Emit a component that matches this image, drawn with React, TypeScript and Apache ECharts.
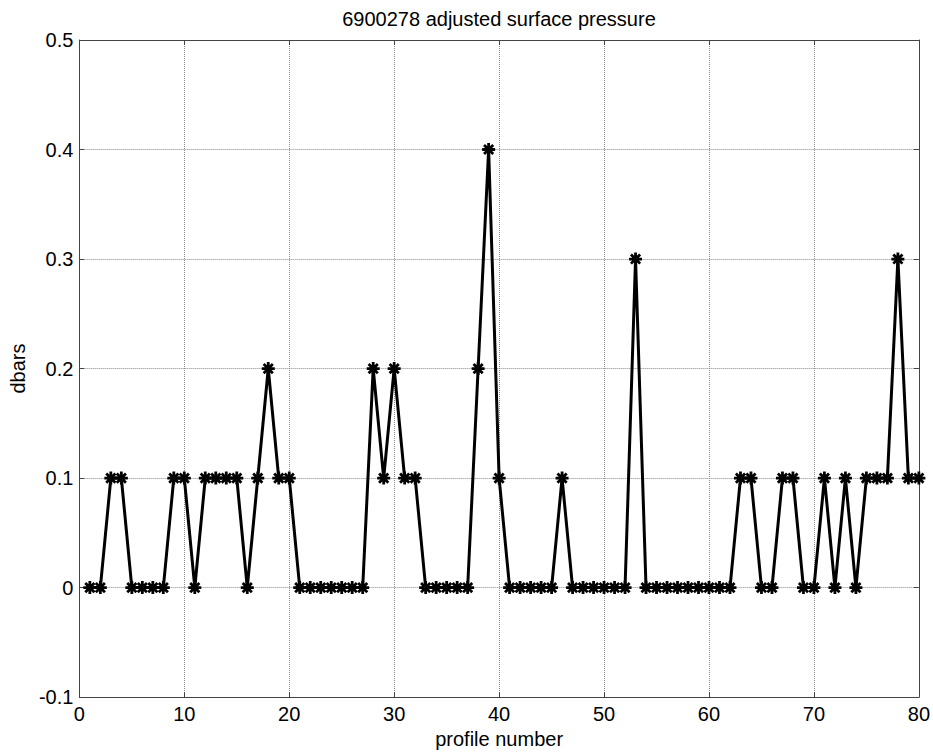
import React, { useEffect, useRef } from "react";
import * as echarts from "echarts";

const titleText = "6900278 adjusted surface pressure";
const xAxisName = "profile number";
const yAxisName = "dbars";

const profileNumbers = [
  1, 2, 3, 4, 5, 6, 7, 8, 9, 10,
  11, 12, 13, 14, 15, 16, 17, 18, 19, 20,
  21, 22, 23, 24, 25, 26, 27, 28, 29, 30,
  31, 32, 33, 34, 35, 36, 37, 38, 39, 40,
  41, 42, 43, 44, 45, 46, 47, 48, 49, 50,
  51, 52, 53, 54, 55, 56, 57, 58, 59, 60,
  61, 62, 63, 64, 65, 66, 67, 68, 69, 70,
  71, 72, 73, 74, 75, 76, 77, 78, 79, 80,
];

const adjustedPressure = [
  0, 0, 0.1, 0.1, 0, 0, 0, 0, 0.1, 0.1,
  0, 0.1, 0.1, 0.1, 0.1, 0, 0.1, 0.2, 0.1, 0.1,
  0, 0, 0, 0, 0, 0, 0, 0.2, 0.1, 0.2,
  0.1, 0.1, 0, 0, 0, 0, 0, 0.2, 0.4, 0.1,
  0, 0, 0, 0, 0, 0.1, 0, 0, 0, 0,
  0, 0, 0.3, 0, 0, 0, 0, 0, 0, 0,
  0, 0, 0.1, 0.1, 0, 0, 0.1, 0.1, 0, 0,
  0.1, 0, 0.1, 0, 0.1, 0.1, 0.1, 0.3, 0.1, 0.1,
];

const xTicks = { min: 0, max: 80, interval: 10 };
const yTicks = { min: -0.1, max: 0.5, interval: 0.1 };

const FONT = "'Liberation Sans', Arial, sans-serif";
const AXIS_COLOR = "#444";
const GRID_COLOR = "#8a8a8a";
const ASTERISK = "path://M0,-10L0,10M-10,0L10,0M-7.07,-7.07L7.07,7.07M-7.07,7.07L7.07,-7.07";

export default function App() {
  const ref = useRef<HTMLDivElement>(null);

  useEffect(() => {
    if (!ref.current) return;
    const chart = echarts.init(ref.current, undefined, { renderer: "svg" });
    const data = profileNumbers.map((p, i) => [p, adjustedPressure[i]]);

    const axisLine = { show: true, onZero: false, lineStyle: { color: AXIS_COLOR, width: 1 } };
    const axisTick = { show: true, inside: true, length: 5, lineStyle: { color: AXIS_COLOR } };
    const labelStyle = { color: "#000", fontSize: 20, fontFamily: FONT };

    chart.setOption({
      animation: false,
      backgroundColor: "#fff",
      title: {
        text: titleText,
        left: 499,
        top: 9,
        textAlign: "center",
        padding: 0,
        textStyle: { color: "#000", fontSize: 20, fontWeight: "normal", fontFamily: FONT },
      },
      grid: { left: 78, right: 12, top: 40, bottom: 52, containLabel: false },
      xAxis: [
        {
          type: "value",
          position: "bottom",
          min: xTicks.min,
          max: xTicks.max,
          interval: xTicks.interval,
          name: xAxisName,
          nameLocation: "middle",
          nameGap: 30,
          nameTextStyle: labelStyle,
          axisLine,
          axisTick,
          axisLabel: { ...labelStyle, margin: 7 },
          splitLine: { show: true, lineStyle: { color: GRID_COLOR, type: "dotted", width: 1 } },
        },
        {
          type: "value",
          position: "top",
          min: xTicks.min,
          max: xTicks.max,
          interval: xTicks.interval,
          axisLine,
          axisTick,
          axisLabel: { show: false },
          splitLine: { show: false },
        },
      ],
      yAxis: [
        {
          type: "value",
          position: "left",
          min: yTicks.min,
          max: yTicks.max,
          interval: yTicks.interval,
          name: yAxisName,
          nameLocation: "middle",
          nameGap: 48,
          nameTextStyle: labelStyle,
          axisLine,
          axisTick,
          axisLabel: {
            ...labelStyle,
            margin: 6,
            formatter: (v: number) => String(Math.round(v * 10) / 10),
          },
          splitLine: { show: true, lineStyle: { color: GRID_COLOR, type: "dotted", width: 1 } },
        },
        {
          type: "value",
          position: "right",
          min: yTicks.min,
          max: yTicks.max,
          interval: yTicks.interval,
          axisLine,
          axisTick,
          axisLabel: { show: false },
          splitLine: { show: false },
        },
      ],
      series: [
        {
          type: "line",
          xAxisIndex: 0,
          yAxisIndex: 0,
          data,
          symbol: ASTERISK,
          symbolSize: 13,
          showSymbol: true,
          lineStyle: { color: "#000", width: 3 },
          itemStyle: { color: "#000", borderColor: "#000", borderWidth: 2.8 },
          emphasis: { disabled: true },
        },
      ],
    });

    return () => chart.dispose();
  }, []);

  return (
    <div
      ref={ref}
      style={{ position: "fixed", left: 0, top: 0, width: 933, height: 754, background: "#fff" }}
    />
  );
}
